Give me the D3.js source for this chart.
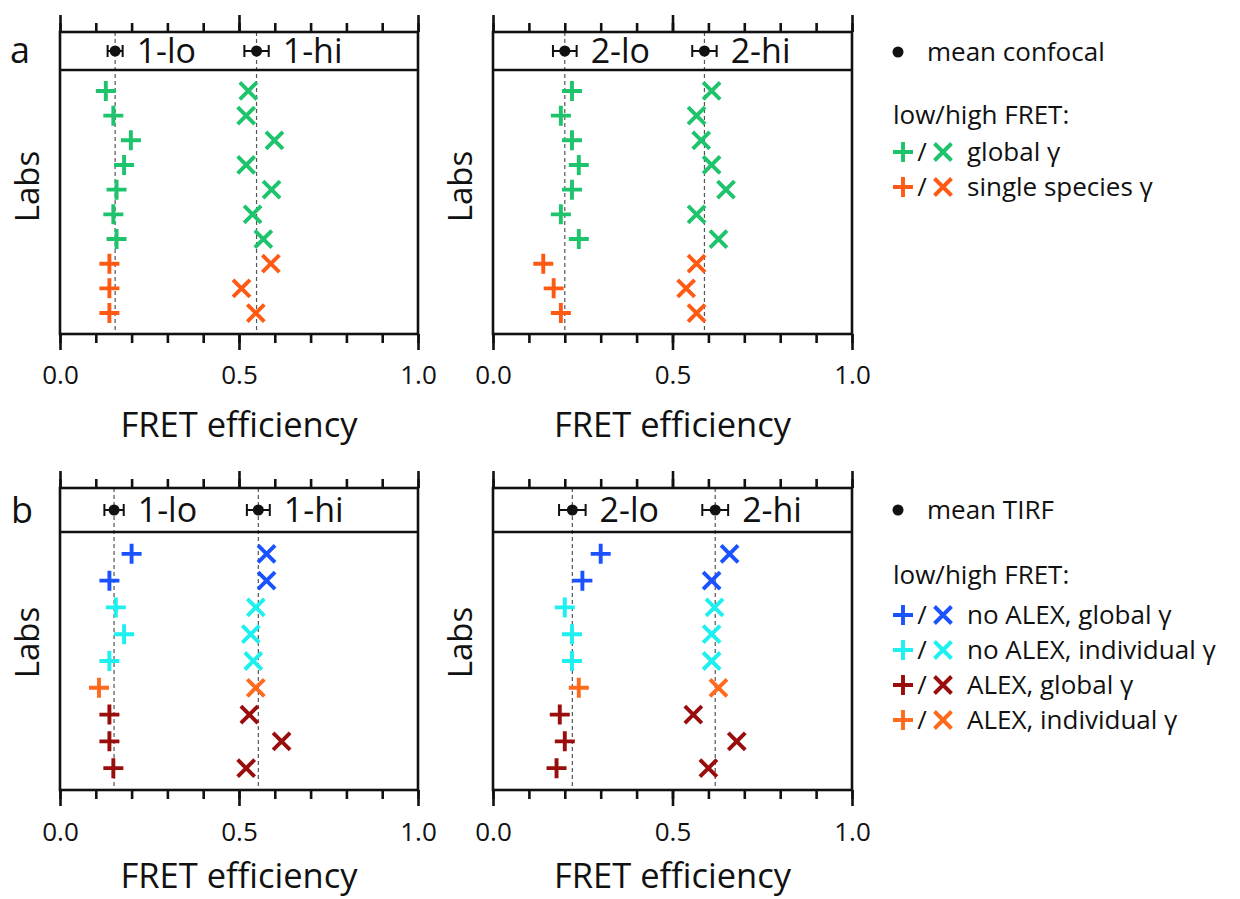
<!DOCTYPE html>
<html>
<head>
<meta charset="utf-8">
<script src="https://cdn.jsdelivr.net/npm/d3@7"></script>
<style>
  body { margin: 0; background: #fff; }
  svg { display: block; }
  text { font-family: "Open Sans", "Liberation Sans", sans-serif; fill: #111; }
</style>
</head>
<body>
<svg id="fig" width="1240" height="899"></svg>
<script>
// ---- data: one row per lab, top to bottom ----
const samples = ["1-lo", "1-hi", "2-lo", "2-hi"];

// (a) confocal
const confocalMethod = ["global", "global", "global", "global", "global", "global", "global", "single", "single", "single"];
const confocal1Lo = [0.128, 0.149, 0.198, 0.179, 0.158, 0.149, 0.158, 0.138, 0.138, 0.138];
const confocal1Hi = [0.526, 0.520, 0.599, 0.520, 0.591, 0.538, 0.568, 0.589, 0.507, 0.547];
const confocal2Lo = [0.220, 0.189, 0.220, 0.239, 0.220, 0.189, 0.239, 0.140, 0.169, 0.189];
const confocal2Hi = [0.609, 0.567, 0.580, 0.609, 0.649, 0.567, 0.628, 0.567, 0.538, 0.567];
const confocalMean = [0.154, 0.549, 0.200, 0.589];
const confocalErr = [0.021, 0.034, 0.033, 0.034];

// (b) TIRF
const tirfMethod = ["noAlexGlobal", "noAlexGlobal", "noAlexInd", "noAlexInd", "noAlexInd", "alexInd", "alexGlobal", "alexGlobal", "alexGlobal"];
const tirf1Lo = [0.200, 0.138, 0.156, 0.179, 0.138, 0.109, 0.138, 0.138, 0.149];
const tirf1Hi = [0.577, 0.577, 0.547, 0.533, 0.540, 0.547, 0.529, 0.619, 0.520];
const tirf2Lo = [0.300, 0.249, 0.200, 0.220, 0.220, 0.239, 0.186, 0.200, 0.177];
const tirf2Hi = [0.659, 0.609, 0.617, 0.609, 0.609, 0.628, 0.558, 0.679, 0.600];
const tirfMean = [0.151, 0.554, 0.221, 0.619];
const tirfErr = [0.027, 0.032, 0.037, 0.036];

// axis ticks
const minorTicks = [0, 0.1, 0.2, 0.3, 0.4, 0.5, 0.6, 0.7, 0.8, 0.9, 1.0];
const majorTicks = [0, 0.5, 1.0];
const majorTickLabels = ["0.0", "0.5", "1.0"];

// legends
const confocalLegendKeys = ["global", "single"];
const confocalLegendText = ["global \u03b3", "single species \u03b3"];
const tirfLegendKeys = ["noAlexGlobal", "noAlexInd", "alexGlobal", "alexInd"];
const tirfLegendText = ["no ALEX, global \u03b3", "no ALEX, individual \u03b3", "ALEX, global \u03b3", "ALEX, individual \u03b3"];

// ---- styling ----
const colors = {
  global: "#1ec46c",
  single: "#ff5a14",
  noAlexGlobal: "#1a52ff",
  noAlexInd: "#1ef0f0",
  alexGlobal: "#990d0d",
  alexInd: "#ff6a1c"
};
const ink = "#111";
const plusPath = "M-10,0H10M0,-10V10";
const crossPath = "M-8.5,-8.5L8.5,8.5M-8.5,8.5L8.5,-8.5";

const svg = d3.select("#fig");

function drawPanel(cfg) {
  const x = d3.scaleLinear().domain([0, 1]).range([cfg.left, cfg.right]);
  const y = d3.scalePoint()
    .domain(d3.range(cfg.methods.length))
    .range([cfg.headBottom, cfg.bottom])
    .padding(cfg.pad);
  const g = svg.append("g");

  // dashed reference lines at the means
  g.selectAll("line.ref").data(cfg.means).join("line")
    .attr("class", "ref")
    .attr("x1", d => x(d)).attr("x2", d => x(d))
    .attr("y1", cfg.top).attr("y2", cfg.bottom)
    .attr("stroke", "#555").attr("stroke-width", 1.2)
    .attr("stroke-dasharray", "4,3");

  // frame and header divider
  g.append("rect")
    .attr("x", cfg.left).attr("y", cfg.top)
    .attr("width", cfg.right - cfg.left).attr("height", cfg.bottom - cfg.top)
    .attr("fill", "none").attr("stroke", ink).attr("stroke-width", 2.6);
  g.append("line")
    .attr("x1", cfg.left).attr("x2", cfg.right)
    .attr("y1", cfg.headBottom).attr("y2", cfg.headBottom)
    .attr("stroke", ink).attr("stroke-width", 2.6);

  // tick marks, top and bottom
  const styleAxis = sel => {
    sel.select(".domain").remove();
    sel.selectAll(".tick line").attr("stroke", ink).attr("stroke-width", 2.6);
  };
  g.append("g").attr("transform", `translate(0,${cfg.top})`)
    .call(d3.axisTop(x).tickValues(minorTicks).tickSize(9).tickFormat("")).call(styleAxis);
  g.append("g").attr("transform", `translate(0,${cfg.top})`)
    .call(d3.axisTop(x).tickValues(majorTicks).tickSize(17).tickFormat("")).call(styleAxis);
  g.append("g").attr("transform", `translate(0,${cfg.bottom})`)
    .call(d3.axisBottom(x).tickValues(minorTicks).tickSize(9).tickFormat("")).call(styleAxis);
  const bottomAxis = g.append("g").attr("transform", `translate(0,${cfg.bottom})`)
    .call(d3.axisBottom(x).tickValues(majorTicks).tickSize(16)
      .tickFormat((d, i) => majorTickLabels[i]))
    .call(styleAxis);
  bottomAxis.selectAll(".tick text")
    .attr("y", cfg.tickLabelOffset).attr("dy", "0.35em")
    .attr("font-size", 26).attr("fill", ink)
    .attr("font-family", "'Open Sans', sans-serif");

  // mean ± error in the header strip
  const hy = (cfg.top + cfg.headBottom) / 2;
  const means = cfg.means.map((m, i) => ({ m, e: cfg.errs[i], name: cfg.names[i] }));
  const mg = g.selectAll("g.mean").data(means).join("g").attr("class", "mean");
  mg.append("line")
    .attr("x1", d => x(d.m - d.e)).attr("x2", d => x(d.m + d.e))
    .attr("y1", hy).attr("y2", hy)
    .attr("stroke", ink).attr("stroke-width", 2);
  mg.selectAll("line.cap").data(d => [d.m - d.e, d.m + d.e]).join("line")
    .attr("class", "cap")
    .attr("x1", v => x(v)).attr("x2", v => x(v))
    .attr("y1", hy - 6).attr("y2", hy + 6)
    .attr("stroke", ink).attr("stroke-width", 2);
  mg.append("circle")
    .attr("cx", d => x(d.m)).attr("cy", hy).attr("r", 5.5).attr("fill", ink);
  mg.append("text")
    .attr("x", d => x(d.m + d.e) + 14).attr("y", hy).attr("dy", "0.36em")
    .attr("font-size", 34)
    .text(d => d.name);

  // lab markers: + for low FRET, × for high FRET
  const pts = [];
  cfg.series.forEach((vals, si) => {
    vals.forEach((v, i) => pts.push({ v, i, high: si % 2 === 1, method: cfg.methods[i] }));
  });
  g.selectAll("path.mk").data(pts).join("path")
    .attr("class", "mk")
    .attr("transform", d => `translate(${x(d.v)},${y(d.i)})`)
    .attr("d", d => d.high ? crossPath : plusPath)
    .attr("fill", "none")
    .attr("stroke", d => colors[d.method])
    .attr("stroke-width", 3.9);

  // axis titles
  g.append("text")
    .attr("x", (cfg.left + cfg.right) / 2).attr("y", cfg.titleY).attr("dy", "0.35em")
    .attr("text-anchor", "middle").attr("font-size", 34.5)
    .text("FRET efficiency");
  g.append("text")
    .attr("transform", `translate(${cfg.left - 33},${(cfg.tickTop + cfg.tickBottom) / 2 + 4}) rotate(-90)`)
    .attr("text-anchor", "middle").attr("dy", "0.35em").attr("font-size", 33)
    .text("Labs");
}

const panelA = { top: 32, headBottom: 70, bottom: 334, tickTop: 15, tickBottom: 350, pad: 0.85, tickLabelOffset: 41, titleY: 425 };
const panelB = { top: 488, headBottom: 532, bottom: 790, tickTop: 472, tickBottom: 805, pad: 0.815, tickLabelOffset: 42, titleY: 876 };

drawPanel(Object.assign({}, panelA, {
  left: 60, right: 418, methods: confocalMethod,
  series: [confocal1Lo, confocal1Hi],
  means: confocalMean.slice(0, 2), errs: confocalErr.slice(0, 2), names: samples.slice(0, 2)
}));
drawPanel(Object.assign({}, panelA, {
  left: 493, right: 852, methods: confocalMethod,
  series: [confocal2Lo, confocal2Hi],
  means: confocalMean.slice(2), errs: confocalErr.slice(2), names: samples.slice(2)
}));
drawPanel(Object.assign({}, panelB, {
  left: 60, right: 418, methods: tirfMethod,
  series: [tirf1Lo, tirf1Hi],
  means: tirfMean.slice(0, 2), errs: tirfErr.slice(0, 2), names: samples.slice(0, 2)
}));
drawPanel(Object.assign({}, panelB, {
  left: 493, right: 852, methods: tirfMethod,
  series: [tirf2Lo, tirf2Hi],
  means: tirfMean.slice(2), errs: tirfErr.slice(2), names: samples.slice(2)
}));

// panel letters
svg.append("text").attr("x", 20).attr("y", 50).attr("dy", "0.35em")
  .attr("text-anchor", "middle").attr("font-size", 36).text("a");
svg.append("text").attr("x", 22).attr("y", 510).attr("dy", "0.35em")
  .attr("text-anchor", "middle").attr("font-size", 36).text("b");

// legends
function drawLegend(meanY, meanLabel, headY, rowYs, keys, labels) {
  const g = svg.append("g");
  g.append("circle").attr("cx", 898).attr("cy", meanY).attr("r", 5.5).attr("fill", ink);
  g.append("text").attr("x", 927).attr("y", meanY).attr("dy", "0.35em")
    .attr("font-size", 26).text(meanLabel);
  g.append("text").attr("x", 893).attr("y", headY).attr("dy", "0.35em")
    .attr("font-size", 26).text("low/high FRET:");
  const rows = g.selectAll("g.row").data(keys.map((k, i) => ({ k, label: labels[i], y: rowYs[i] })))
    .join("g").attr("class", "row");
  rows.append("path")
    .attr("transform", d => `translate(903,${d.y})`)
    .attr("d", plusPath).attr("fill", "none")
    .attr("stroke", d => colors[d.k]).attr("stroke-width", 3.9);
  rows.append("text").attr("x", 922).attr("y", d => d.y).attr("dy", "0.35em")
    .attr("text-anchor", "middle").attr("font-size", 26).text("/");
  rows.append("path")
    .attr("transform", d => `translate(943,${d.y})`)
    .attr("d", crossPath).attr("fill", "none")
    .attr("stroke", d => colors[d.k]).attr("stroke-width", 3.9);
  rows.append("text").attr("x", 967).attr("y", d => d.y).attr("dy", "0.35em")
    .attr("font-size", 26).text(d => d.label);
}

drawLegend(52, "mean confocal", 115, [152, 187], confocalLegendKeys, confocalLegendText);
drawLegend(510, "mean TIRF", 575, [615, 650, 685, 720], tirfLegendKeys, tirfLegendText);
</script>
</body>
</html>
